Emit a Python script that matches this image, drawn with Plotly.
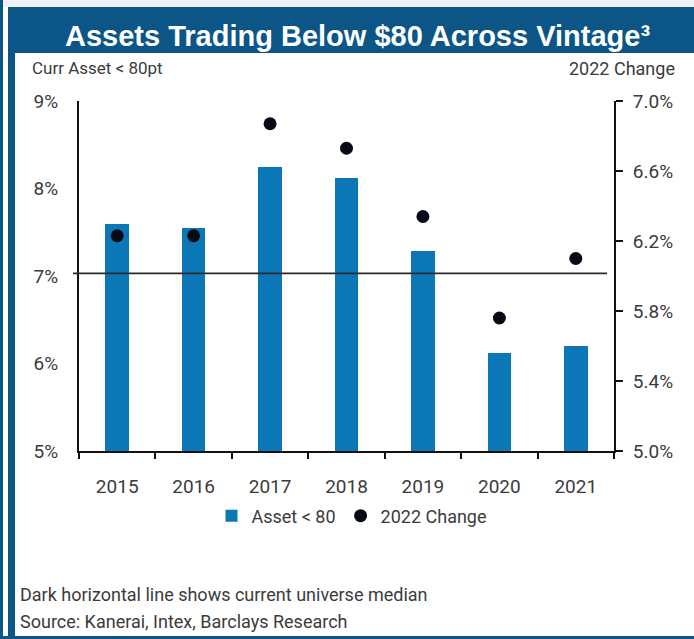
import plotly.graph_objects as go

# ---- data ----
vintages = ["2015", "2016", "2017", "2018", "2019", "2020", "2021"]
asset_below_80 = [7.59, 7.55, 8.25, 8.12, 7.29, 6.12, 6.20]      # left axis, %
change_2022 = [6.23, 6.23, 6.87, 6.73, 6.34, 5.76, 6.10]         # right axis, %
universe_median = 7.03                                            # left axis, %
left_ticks = [5, 6, 7, 8, 9]
left_ticktext = ["5%", "6%", "7%", "8%", "9%"]
right_ticks = [5.0, 5.4, 5.8, 6.2, 6.6, 7.0]
right_ticktext = ["5.0%", "5.4%", "5.8%", "6.2%", "6.6%", "7.0%"]

title_text = "Assets Trading Below $80 Across Vintage³"
left_title = "Curr Asset < 80pt"
right_title = "2022 Change"
notes = ["Dark horizontal line shows current universe median",
         "Source: Kanerai, Intex, Barclays Research"]

# ---- layout geometry ----
W, H = 694, 639
ML, MR, MT, MB = 79, 80, 101, 188
PW, PH = W - ML - MR, H - MT - MB


def px(x):
    return (x - ML) / PW


def py(y):
    return (H - MB - y) / PH


FONT = "Roboto, sans-serif"
TXT = "#3b3b3b"
BLUE_DARK = "#0b5686"
BAR = "#0b77b7"

fig = go.Figure()
fig.add_trace(go.Bar(
    x=vintages, y=asset_below_80, name="Asset < 80",
    marker=dict(color=BAR, line=dict(width=0)), width=0.31,
    yaxis="y",
))
fig.add_trace(go.Scatter(
    x=vintages, y=change_2022, name="2022 Change", mode="markers",
    marker=dict(color="#050a14", size=13, symbol="circle"),
    yaxis="y2",
))

shapes = [
    # top light strip
    dict(type="rect", xref="paper", yref="paper", x0=px(0), x1=px(W), y0=py(0), y1=py(7),
         fillcolor="#eef2f5", line=dict(width=0), layer="below"),
    # title banner
    dict(type="rect", xref="paper", yref="paper", x0=px(8), x1=px(W), y0=py(7), y1=py(53),
         fillcolor=BLUE_DARK, line=dict(width=0), layer="below"),
    # outer left thin stripe
    dict(type="rect", xref="paper", yref="paper", x0=px(0), x1=px(3), y0=py(0), y1=py(H),
         fillcolor=BLUE_DARK, line=dict(width=0), layer="below"),
    # inner left stripe
    dict(type="rect", xref="paper", yref="paper", x0=px(8), x1=px(15), y0=py(53), y1=py(H),
         fillcolor=BLUE_DARK, line=dict(width=0), layer="below"),
    # bottom border
    dict(type="rect", xref="paper", yref="paper", x0=px(0), x1=px(W), y0=py(636), y1=py(H),
         fillcolor=BLUE_DARK, line=dict(width=0), layer="below"),
    # median line
    dict(type="line", xref="paper", yref="y", x0=px(73), x1=px(607),
         y0=universe_median, y1=universe_median,
         line=dict(color="#2a2a2a", width=1.6), layer="above"),
]

annotations = [
    dict(text=title_text, xref="paper", yref="paper", x=px(357), y=py(36),
         xanchor="center", yanchor="middle", showarrow=False,
         font=dict(family="Liberation Sans, Arial, sans-serif", size=29, color="white", weight="bold")),
    dict(text=left_title, xref="paper", yref="paper", x=px(30), y=py(68),
         xanchor="left", yanchor="middle", showarrow=False,
         font=dict(family=FONT, size=17, color=TXT)),
    dict(text=right_title, xref="paper", yref="paper", x=px(677), y=py(68),
         xanchor="right", yanchor="middle", showarrow=False,
         font=dict(family=FONT, size=18, color=TXT)),
    dict(text=notes[0], xref="paper", yref="paper", x=px(18), y=py(594),
         xanchor="left", yanchor="middle", showarrow=False,
         font=dict(family=FONT, size=18, color=TXT)),
    dict(text=notes[1], xref="paper", yref="paper", x=px(18), y=py(621),
         xanchor="left", yanchor="middle", showarrow=False,
         font=dict(family=FONT, size=18, color=TXT)),
]

fig.update_layout(
    width=W, height=H,
    margin=dict(l=ML, r=MR, t=MT, b=MB, pad=0),
    paper_bgcolor="white", plot_bgcolor="white",
    font=dict(family=FONT, size=18, color=TXT),
    showlegend=True,
    legend=dict(orientation="h", x=px(352), y=py(516), xanchor="center", yanchor="middle",
                font=dict(family=FONT, size=18, color=TXT), itemwidth=30,
                tracegroupgap=0, bgcolor="rgba(0,0,0,0)"),
    bargap=0,
    xaxis=dict(type="category", range=[-0.5, 6.5], showline=True, linecolor="#111",
               linewidth=2, ticks="outside", tickson="boundaries", ticklen=6,
               tickcolor="#111", tickwidth=1.5, showgrid=False, zeroline=False,
               tickfont=dict(family=FONT, size=19, color=TXT), ticklabelstandoff=17),
    yaxis=dict(range=[5, 9], tickvals=left_ticks, ticktext=left_ticktext,
               showline=True, linecolor="#111", linewidth=2, ticks="",
               showgrid=False, zeroline=False, ticklabelstandoff=15,
               tickfont=dict(family=FONT, size=19, color=TXT)),
    yaxis2=dict(range=[5, 7], tickvals=right_ticks, ticktext=right_ticktext,
                overlaying="y", side="right", showline=True, linecolor="#111",
                linewidth=2, ticks="outside", ticklen=7, tickwidth=1.5, tickcolor="#111",
                showgrid=False, zeroline=False, ticklabelstandoff=6,
                tickfont=dict(family=FONT, size=19, color=TXT)),
    shapes=shapes,
    annotations=annotations,
)

fig.write_html("out.html")
